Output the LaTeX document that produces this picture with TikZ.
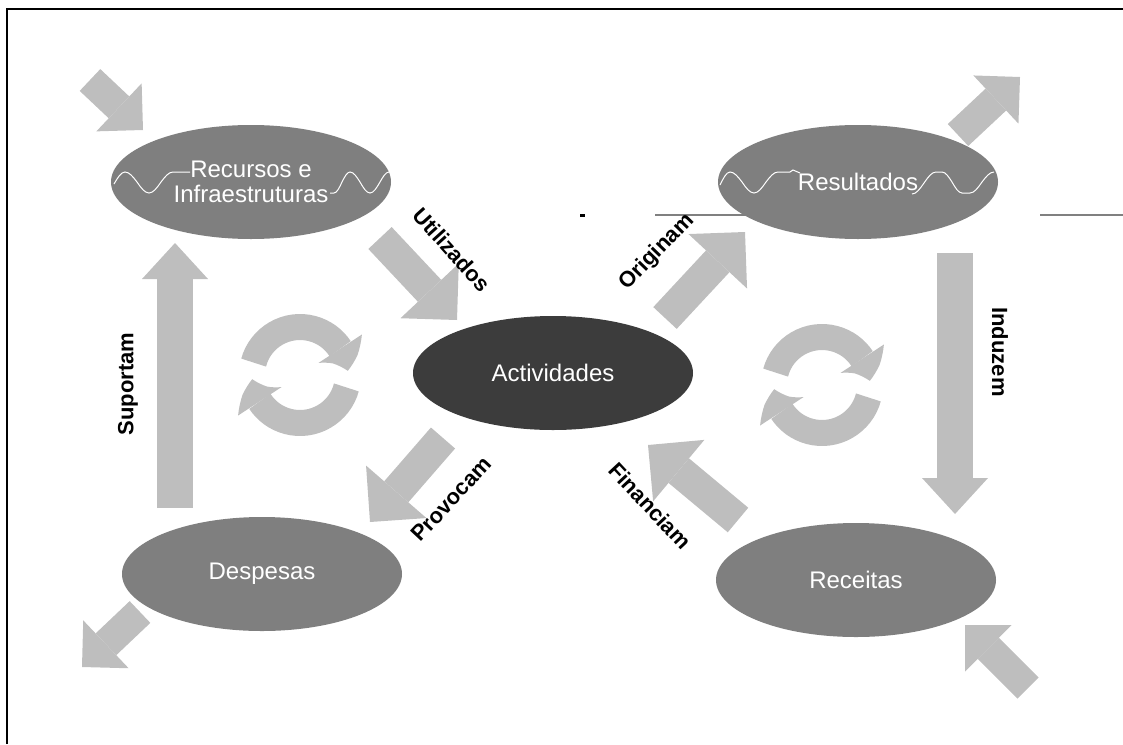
\documentclass[tikz,border=0pt]{standalone}
\usepackage{fontspec}
\setmainfont{Liberation Sans}
\usepackage{tikz}
\usetikzlibrary{shapes.geometric,arrows.meta,bending,calc}
\definecolor{cinzaseta}{HTML}{BEBEBE}
\definecolor{cinzaelipse}{HTML}{7F7F7F}
\definecolor{cinzaescuro}{HTML}{3C3C3C}
\tikzset{
  elipse/.style={ellipse, fill=cinzaelipse, minimum width=280pt, minimum height=114pt,
                 inner sep=0pt, align=center, text=white, font=\fontsize{24}{25}\selectfont},
  central/.style={elipse, fill=cinzaescuro},
  seta/.style={draw=cinzaseta, line width=32pt, -{Triangle[width=80pt, length=40pt, line width=0pt]}},
  setacanto/.style={draw=cinzaseta, line width=30pt, -{Triangle[width=66pt, length=33pt, line width=0pt]}},
  setavert/.style={draw=cinzaseta, line width=36pt, -{Triangle[width=66pt, length=36pt, line width=0pt]}},
  ciclo/.style={draw=cinzaseta, line width=26pt, -{Triangle[width=52pt, length=24pt, line width=0pt, bend]}},
  rotulo/.style={font=\fontsize{22}{22}\selectfont\bfseries, inner sep=0pt},
  onda/.style={draw=white, line width=1pt},
  linha/.style={draw=gray, line width=1.5pt}
}
\begin{document}
\begin{tikzpicture}[x=1pt, y=-1pt]
  \useasboundingbox (0,0) rectangle (1123,744);
  % --- moldura ---
  \draw[line width=2.5pt] (7,744) -- (7,9) -- (1123,9);
  % --- linha cinzenta ---
  \draw[linha] (655,215) -- (800,215);
  \draw[linha] (1040,215) -- (1123,215);
  \fill (580,213.5) rectangle (585,216.5);

  % --- elipses ---
  \node[elipse] (R) at (251,182) {Recursos e\\Infraestruturas};
  \node[elipse] (S) at (858,182) {Resultados};
  \node[central] (A) at (553,373) {Actividades};
  \node[elipse] (D) at (262,574) {Despesas};
  \node[elipse] (C) at (856,580) {Receitas};

  % ondas brancas
  \draw[onda] (114,184) sin (125,172) cos (137,182) sin (149,193) cos (161,182) sin (173,172) -- (190,172);
  \draw[onda] (330,193) -- (334,193) cos (342,182) sin (350,172) cos (360,182) sin (370,193) cos (380,182) sin (389,172);
  \draw[onda] (720,185) sin (730,172) cos (742,182) sin (754,193) cos (766,182) sin (778,172) -- (790,172) -- (793,170) -- (800,173);
  \draw[onda] (912,194) cos (924,183) sin (936,172) -- (942,172) cos (952,182) sin (962,193) -- (970,193) cos (982,182) sin (994,172);

  % --- setas dos cantos ---
  \draw[setacanto] ($(R)+(-161,-102)$) -- ($(R)+(-108,-52)$);
  \draw[setacanto] ($(S)+(100,-47)$) -- ($(S)+(162,-105)$);
  \draw[setacanto] ($(D)+(-122,38)$) -- ($(D)+(-180,93)$);
  \draw[setacanto] ($(C)+(172,108)$) -- ($(C)+(109,45)$);

  % --- setas verticais ---
  \draw[setavert] ($(D)+(-87,-66)$) -- ($(R)+(-76,61)$);
  \draw[setavert] ($(S)+(97,71)$) -- ($(C)+(99,-66)$);

  % --- setas diagonais ---
  \draw[seta] ($(R)+(129,56)$) -- ($(A)+(-96,-53)$);
  \draw[seta] ($(A)+(112,-55)$) -- ($(S)+(-113,50)$);
  \draw[seta] ($(A)+(-110,65)$) -- ($(D)+(108,-52)$);
  \draw[seta] ($(C)+(-118,-60)$) -- ($(A)+(95,72)$);

  % --- ciclos ---
  \draw[ciclo] (300,375) ++(195:48) arc[start angle=195, end angle=355, radius=48];
  \draw[ciclo] (300,375) ++(15:48) arc[start angle=15, end angle=175, radius=48];
  \draw[ciclo] (822,385) ++(195:48) arc[start angle=195, end angle=355, radius=48];
  \draw[ciclo] (822,385) ++(15:48) arc[start angle=15, end angle=175, radius=48];

  % --- rotulos ---
  \node[rotulo, rotate=-48] (lu) at (452,250) {Utilizados};
  \node[rotulo, rotate=46]  (lo) at (657,252) {Originam};
  \node[rotulo, rotate=90]  (ls) at (128,384) {Suportam};
  \node[rotulo, rotate=-90] (li) at (1000,352) {Induzem};
  \node[rotulo, rotate=47]  (lp) at (451,499) {Provocam};
  \node[rotulo, rotate=-47] (lf) at (650,506) {Financiam};
\end{tikzpicture}
\end{document}
